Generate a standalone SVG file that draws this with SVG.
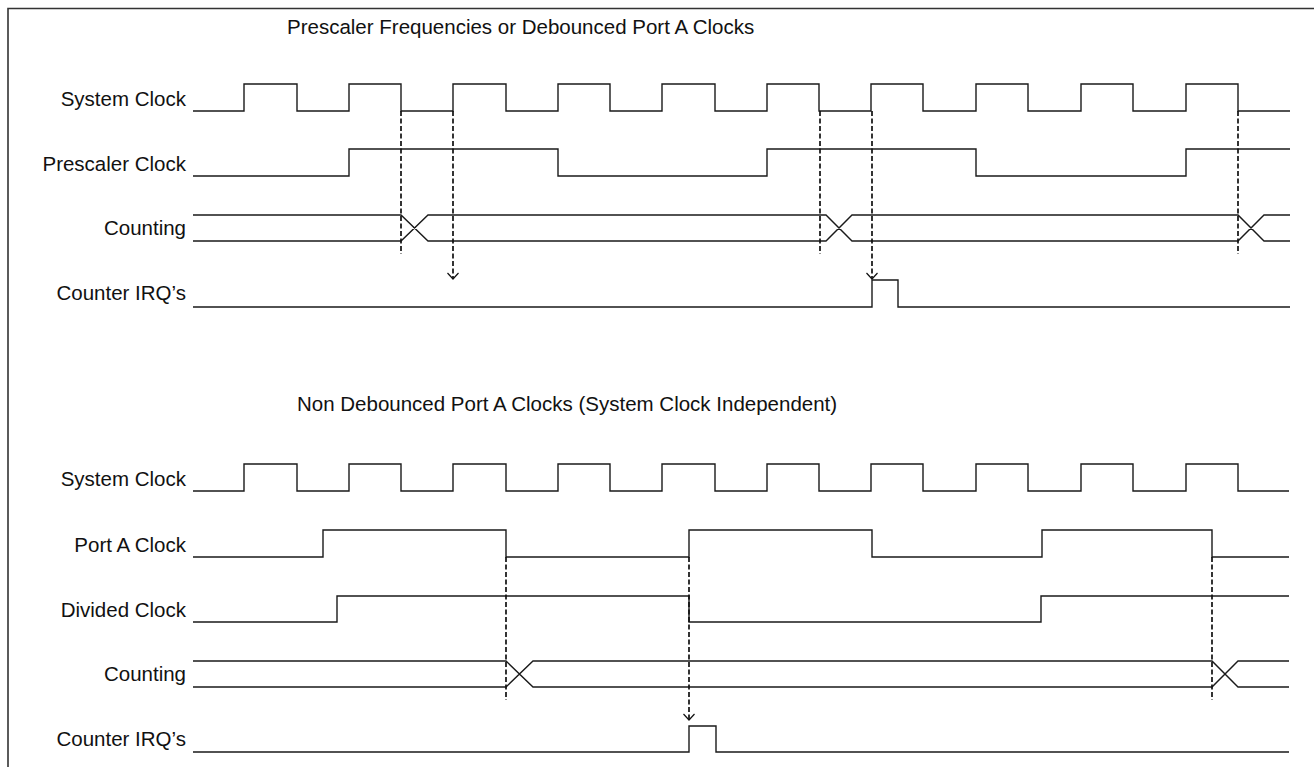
<svg xmlns="http://www.w3.org/2000/svg" width="1314" height="767" viewBox="0 0 1314 767">
<style>
.bg{fill:#fff}
.lbl{font-family:"Liberation Sans",Arial,sans-serif;font-size:20.5px;fill:#111;text-anchor:end}
.ttl{font-family:"Liberation Sans",Arial,sans-serif;font-size:20.5px;fill:#111}
.wave{fill:none;stroke:#1a1a1a;stroke-width:1.4}
.dash{fill:none;stroke:#111;stroke-width:1.7;stroke-dasharray:5 2.5}
.frame{fill:none;stroke:#333;stroke-width:1.6}
</style>
<defs>
<marker id="vhead" viewBox="-8 -8 16 16" markerWidth="16" markerHeight="16" markerUnits="userSpaceOnUse" refX="0" refY="0" orient="auto">
<path d="M-6,-5.5 L0,0 L-6,5.5" fill="none" stroke="#111" stroke-width="1.2"/>
</marker>
</defs>
<rect class="bg" x="0" y="0" width="1314" height="767"/>
<g id="frame">
<path class="frame" d="M8,767 V8.5 H1314"/>
</g>
<g id="titles">
<text id="title-top" class="ttl" x="287" y="34">Prescaler Frequencies or Debounced Port A Clocks</text>
<text id="title-bottom" class="ttl" x="297" y="411">Non Debounced Port A Clocks (System Clock Independent)</text>
</g>
<g id="sig-top-sysclk">
<text class="lbl" x="186" y="106">System Clock</text>
<path class="wave" d="M193,111 H244 V84 H297 V111 H349 V84 H401 V111 H453 V84 H506 V111 H558 V84 H610 V111 H662 V84 H715 V111 H767 V84 H819 V111 H871 V84 H923 V111 H976 V84 H1028 V111 H1081 V84 H1133 V111 H1186 V84 H1238 V111 H1290"/>
</g>
<g id="sig-top-prescaler">
<text class="lbl" x="186" y="171">Prescaler Clock</text>
<path class="wave" d="M193,176 H349 V149 H558 V176 H767 V149 H976 V176 H1186 V149 H1290"/>
</g>
<g id="sig-top-counting">
<text class="lbl" x="186" y="235">Counting</text>
<path class="wave" d="M193,215 H401 L428,241 H826 L852,215 H1238 L1264,241 H1290 M193,241 H401 L428,215 H826 L852,241 H1238 L1264,215 H1290"/>
</g>
<g id="sig-top-irq">
<text class="lbl" x="186" y="300">Counter IRQ’s</text>
<path class="wave" d="M193,307 H872 V280 H898 V307 H1290"/>
</g>
<g id="sig-bot-sysclk">
<text class="lbl" x="186" y="486">System Clock</text>
<path class="wave" d="M193,491 H244 V464 H297 V491 H349 V464 H401 V491 H453 V464 H506 V491 H558 V464 H610 V491 H662 V464 H715 V491 H767 V464 H819 V491 H871 V464 H923 V491 H976 V464 H1028 V491 H1081 V464 H1133 V491 H1186 V464 H1238 V491 H1289"/>
</g>
<g id="sig-bot-porta">
<text class="lbl" x="186" y="552">Port A Clock</text>
<path class="wave" d="M193,557 H323 V530 H506 V557 H689 V530 H872 V557 H1042 V530 H1212 V557 H1289"/>
</g>
<g id="sig-bot-divided">
<text class="lbl" x="186" y="617">Divided Clock</text>
<path class="wave" d="M193,622 H337 V596 H689 V622 H1041 V596 H1289"/>
</g>
<g id="sig-bot-counting">
<text class="lbl" x="186" y="681">Counting</text>
<path class="wave" d="M193,661 H506 L533,687 H1212 L1238,661 H1289 M193,687 H506 L533,661 H1212 L1238,687 H1289"/>
</g>
<g id="sig-bot-irq">
<text class="lbl" x="186" y="746">Counter IRQ’s</text>
<path class="wave" d="M193,752 H689 V726 H716 V752 H1289"/>
</g>
<g id="connectors">
<path class="dash" d="M401,111 V254"/>
<path class="dash" d="M453,111 V279" marker-end="url(#vhead)"/>
<path class="dash" d="M820,111 V254"/>
<path class="dash" d="M872,111 V279" marker-end="url(#vhead)"/>
<path class="dash" d="M1238,111 V254"/>
<path class="dash" d="M506,557 V700"/>
<path class="dash" d="M689,557 V720" marker-end="url(#vhead)"/>
<path class="dash" d="M1212,557 V700"/>
</g>
</svg>
